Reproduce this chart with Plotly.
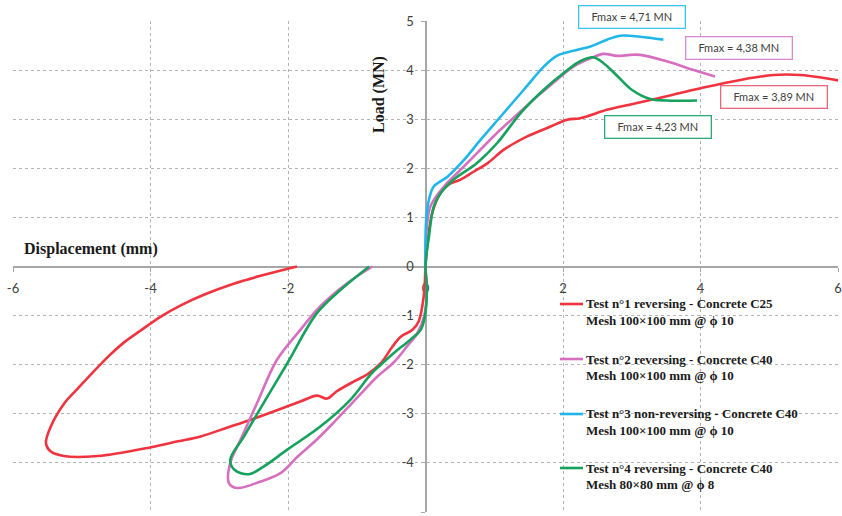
import plotly.graph_objects as go

# ---------------- data (displacement mm, load MN) ----------------
t1_pos_x = [0, 0.03, 0.10, 0.22, 0.35, 0.51, 0.70, 0.90, 1.14, 1.48, 1.82, 2.06, 2.25, 2.64, 2.95, 3.27, 3.60, 4.00, 4.58, 5.06, 5.45, 5.80, 6.00]
t1_pos_y = [0, 0.50, 1.10, 1.50, 1.68, 1.77, 1.93, 2.10, 2.38, 2.65, 2.85, 2.99, 3.02, 3.19, 3.29, 3.39, 3.50, 3.63, 3.80, 3.90, 3.90, 3.84, 3.79]
t1_neg_x = [0, -0.02, -0.10, -0.19, -0.36, -0.48, -0.65, -0.85, -1.04, -1.30, -1.43, -1.58, -1.82, -2.50, -2.88, -3.27, -3.60, -3.99, -4.77, -5.26, -5.45, -5.52, -5.45, -5.25, -5.08, -4.62, -4.38, -4.14, -3.85, -3.56, -3.18, -2.79, -2.40, -1.87]
t1_neg_y = [0, -0.54, -1.12, -1.29, -1.43, -1.63, -1.97, -2.20, -2.34, -2.55, -2.69, -2.63, -2.75, -3.10, -3.28, -3.46, -3.56, -3.68, -3.86, -3.86, -3.77, -3.60, -3.26, -2.78, -2.52, -1.84, -1.54, -1.30, -1.02, -0.79, -0.55, -0.35, -0.19, 0.0]

t2_pos_x = [0, 0.01, 0.07, 0.27, 0.51, 0.75, 1.04, 1.33, 1.62, 1.91, 2.15, 2.40, 2.59, 2.79, 2.98, 3.12, 3.51, 3.90, 4.21]
t2_pos_y = [0, 0.61, 1.22, 1.63, 1.97, 2.31, 2.72, 3.09, 3.46, 3.80, 4.07, 4.24, 4.33, 4.29, 4.31, 4.31, 4.18, 4.00, 3.87]
t2_neg_x = [0, 0.02, -0.02, -0.12, -0.27, -0.46, -0.70, -1.00, -1.33, -1.60, -1.86, -2.11, -2.40, -2.74, -2.86, -2.84, -2.69, -2.45, -2.16, -1.82, -1.53, -1.14, -0.77]
t2_neg_y = [0, -0.41, -1.02, -1.36, -1.63, -1.95, -2.24, -2.68, -3.17, -3.55, -3.87, -4.21, -4.38, -4.51, -4.41, -4.00, -3.53, -2.78, -1.90, -1.29, -0.81, -0.34, 0.0]

t3_x = [0, 0.0, 0.01, 0.05, 0.12, 0.32, 0.56, 0.80, 1.09, 1.43, 1.72, 1.91, 2.20, 2.40, 2.64, 2.83, 3.12, 3.46]
t3_y = [0, 0.50, 0.95, 1.36, 1.63, 1.83, 2.17, 2.58, 3.05, 3.60, 4.07, 4.29, 4.41, 4.48, 4.62, 4.70, 4.68, 4.62]

t4_pos_x = [0, 0.05, 0.12, 0.22, 0.41, 0.75, 1.04, 1.38, 1.72, 2.01, 2.25, 2.44, 2.59, 2.79, 3.00, 3.27, 3.51, 3.95]
t4_pos_y = [0, 0.61, 1.22, 1.49, 1.77, 2.11, 2.51, 3.12, 3.60, 3.94, 4.18, 4.26, 4.14, 3.88, 3.60, 3.41, 3.38, 3.38]
t4_neg_x = [0, 0.02, -0.01, -0.07, -0.22, -0.46, -0.65, -0.80, -1.09, -1.53, -2.01, -2.35, -2.57, -2.78, -2.84, -2.64, -2.30, -2.01, -1.58, -1.23, -0.82]
t4_neg_y = [0, -0.47, -1.02, -1.29, -1.49, -1.76, -2.00, -2.20, -2.71, -3.26, -3.73, -4.07, -4.23, -4.14, -3.94, -3.46, -2.65, -1.97, -0.95, -0.47, 0.0]

names_l1 = ["Test n°1 reversing - Concrete C25", "Test n°2 reversing - Concrete C40",
            "Test n°3 non-reversing - Concrete C40", "Test n°4 reversing - Concrete C40"]
names_l2 = ["Mesh 100×100 mm @ ϕ 10", "Mesh 100×100 mm @ ϕ 10",
            "Mesh 100×100 mm @ ϕ 10", "Mesh 80×80 mm @ ϕ 8"]
colors = ["#f0343f", "#d66fbf", "#20b6ea", "#16a25c"]

fmax_text = ["Fmax = 3,89 MN", "Fmax = 4,38 MN", "Fmax = 4,71 MN", "Fmax = 4,23 MN"]
fmax_x = [5.076, 4.556, 3.00, 3.389]
fmax_y = [3.442, 4.458, 5.075, 2.851]
fmax_border = ["#e8687a", "#d98ccb", "#3cc4ea", "#2aaa78"]

x_ticks = [-6, -4, -2, 0, 2, 4, 6]
y_ticks = [-5, -4, -3, -2, -1, 0, 1, 2, 3, 4, 5]

# ---------------- figure ----------------
def join(pos_x, pos_y, neg_x, neg_y):
    return pos_x[::-1] + neg_x[1:], pos_y[::-1] + neg_y[1:]

series = [
    join(t1_pos_x, t1_pos_y, t1_neg_x, t1_neg_y),
    join(t2_pos_x, t2_pos_y, t2_neg_x, t2_neg_y),
    (t3_x, t3_y),
    join(t4_pos_x, t4_pos_y, t4_neg_x, t4_neg_y),
]

fig = go.Figure()
for (sx, sy), c, n in zip(series, colors, names_l1):
    fig.add_trace(go.Scatter(x=sx, y=sy, mode="lines", name=n,
                             line=dict(color=c, width=2.6, shape="spline", smoothing=1.0),
                             showlegend=False, cliponaxis=False))

W, H = 842, 516
L, R, T, B = 13, 4, 21, 4
XMIN, XMAX, YMIN, YMAX = -6, 6, -5, 5
def xp(px):
    return (px - L) / (W - L - R)
def yp(py):
    return (H - B - py) / (H - T - B)
def dx2p(v):
    return (v - XMIN) / (XMAX - XMIN)
def dy2p(v):
    return (v - YMIN) / (YMAX - YMIN)

tick_font = dict(family="Lato, Open Sans, sans-serif", size=13, color="#404040")
grid = dict(showgrid=True, gridcolor="#b4b4b4", griddash="dot", gridwidth=1)

fig.update_layout(
    width=W, height=H,
    margin=dict(l=L, r=R, t=T, b=B, pad=0),
    paper_bgcolor="white", plot_bgcolor="white",
    xaxis=dict(range=[XMIN, XMAX], tickvals=x_ticks, ticktext=[str(v) for v in x_ticks],
               anchor="free", position=0.5, showline=True, linecolor="#a6a6a6", linewidth=2,
               zeroline=False, ticks="outside", ticklen=4, tickcolor="#a6a6a6",
               ticklabelstandoff=6, tickfont=tick_font, layer="below traces",
               automargin=False, **grid),
    yaxis=dict(range=[YMIN, YMAX], tickvals=y_ticks, ticktext=[str(v) for v in y_ticks],
               anchor="free", position=0.5, showline=True, linecolor="#a6a6a6", linewidth=2,
               zeroline=False, ticks="outside", ticklen=4, tickcolor="#a6a6a6",
               ticklabelstandoff=4, tickfont=tick_font, layer="below traces",
               automargin=False, **grid),
)

annotations = []
for t, x, y, bc in zip(fmax_text, fmax_x, fmax_y, fmax_border):
    annotations.append(dict(x=dx2p(x), y=dy2p(y), xref="paper", yref="paper", text=t, showarrow=False,
                            xanchor="center", yanchor="middle",
                            font=dict(family="Lato, Open Sans, sans-serif", size=11, color="#404040"),
                            bgcolor="white", bordercolor=bc, borderwidth=1.3, borderpad=2,
                            width=101, height=17))

serif_bold = dict(family="Liberation Serif, Times New Roman, serif", size=16, color="#1a1a1a", weight="bold")
annotations.append(dict(x=xp(22), y=yp(249), xref="paper", yref="paper", text="Displacement (mm)",
                        showarrow=False, xanchor="left", yanchor="middle", font=serif_bold))
annotations.append(dict(x=xp(379), y=yp(95), xref="paper", yref="paper", text="Load (MN)",
                        showarrow=False, xanchor="center", yanchor="middle", textangle=-90, font=serif_bold))

legend_font = dict(family="Liberation Serif, Times New Roman, serif", size=13, color="#1a1a1a", weight="bold")
leg_y1 = [304, 359, 414, 468]
shapes = []
for i in range(4):
    y1 = leg_y1[i]
    shapes.append(dict(type="line", xref="paper", yref="paper", x0=xp(560), x1=xp(583),
                       y0=yp(y1), y1=yp(y1), line=dict(color=colors[i], width=2.6)))
    annotations.append(dict(x=xp(584), y=yp(y1), xref="paper", yref="paper", text=names_l1[i],
                            showarrow=False, xanchor="left", yanchor="middle", font=legend_font))
    annotations.append(dict(x=xp(584), y=yp(y1 + 16), xref="paper", yref="paper", text=names_l2[i],
                            showarrow=False, xanchor="left", yanchor="middle", font=legend_font))

fig.update_layout(annotations=annotations, shapes=shapes)
fig.write_html("out.html", config={"displayModeBar": False},
               post_script="document.body.style.margin='0';document.body.style.overflow='hidden';")
